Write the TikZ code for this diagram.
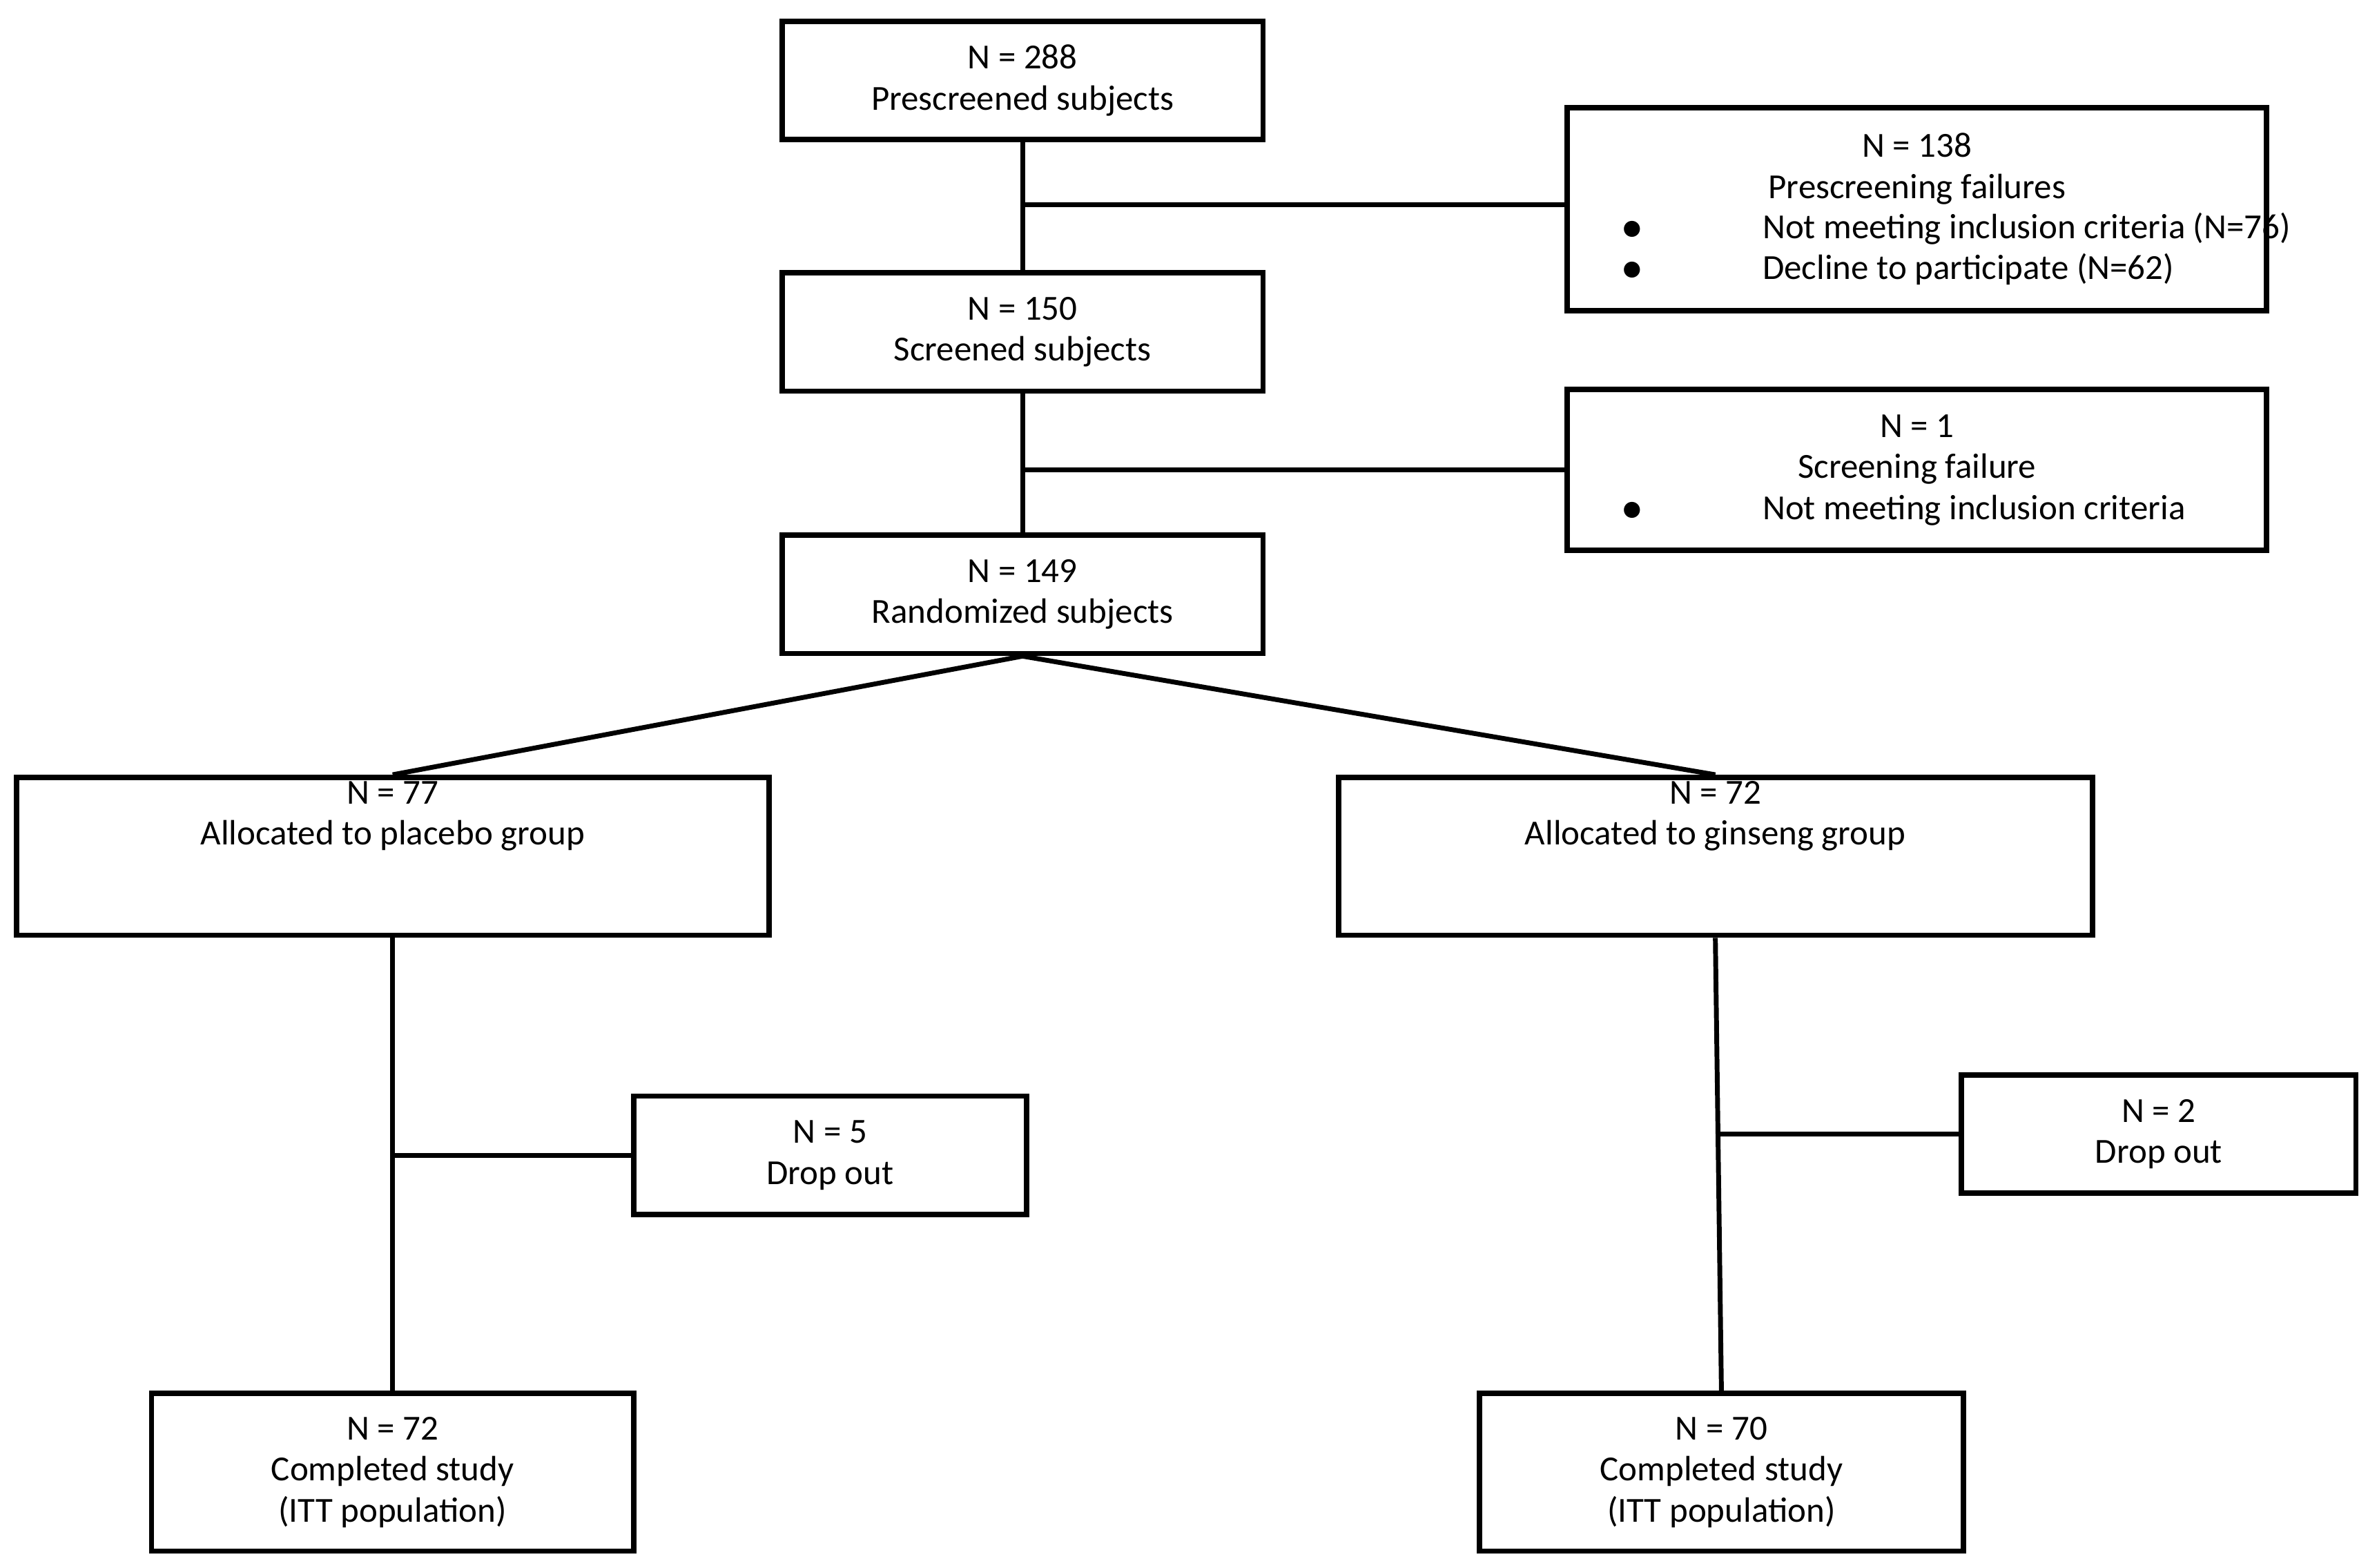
\documentclass[tikz,border=0pt]{standalone}
\usepackage{fontspec}
\setmainfont{Carlito}
\begin{document}
\begin{tikzpicture}[x=0.01cm,y=-0.01cm,
    box/.style={draw,line width=1pt,align=center,inner sep=0pt,
      font=\fontsize{6.6}{7.7}\selectfont},
    link/.style={line width=0.9pt}]
  \useasboundingbox (0,0) rectangle (1562,1034);
  % main column
  \node[box,minimum width=3.17cm,minimum height=0.78cm] (pre) at (674.5,53) {N = 288\\Prescreened subjects};
  \node[box,minimum width=3.17cm,minimum height=0.78cm] (scr) at (674.5,219) {N = 150\\Screened subjects};
  \node[box,minimum width=3.17cm,minimum height=0.78cm] (rand) at (674.5,392) {N = 149\\Randomized subjects};
  % exclusions
  \node[box,minimum width=4.61cm,minimum height=1.34cm] (prefail) at (1264.5,138)
    {N = 138\\Prescreening failures\\[-0.2pt]
     \makebox[3.9cm][l]{$\bullet$\hspace{3.4em}Not meeting inclusion criteria (N=76)}\\
     \makebox[3.9cm][l]{$\bullet$\hspace{3.4em}Decline to participate (N=62)}};
  \node[box,minimum width=4.61cm,minimum height=1.06cm] (scrfail) at (1264.5,310)
    {N = 1\\Screening failure\\
     \makebox[3.9cm][l]{$\bullet$\hspace{3.4em}Not meeting inclusion criteria}};
  % groups
  \node[box,minimum width=4.96cm,minimum height=1.04cm,anchor=north] (plac) at (259,511) {N = 77\\Allocated to placebo group\\[0.3cm]};
  \node[box,minimum width=4.97cm,minimum height=1.04cm,anchor=north] (gins) at (1131.5,511) {N = 72\\Allocated to ginseng group\\[0.3cm]};
  \node[box,minimum width=2.59cm,minimum height=0.78cm] (drop1) at (547.5,762) {N = 5\\Drop out};
  \node[box,minimum width=2.60cm,minimum height=0.78cm] (drop2) at (1424,748) {N = 2\\Drop out};
  \node[box,minimum width=3.18cm,minimum height=1.04cm] (done1) at (259,971) {N = 72\\Completed study\\(ITT population)};
  \node[box,minimum width=3.19cm,minimum height=1.04cm] (done2) at (1135.5,971) {N = 70\\Completed study\\(ITT population)};
  % connectors
  \draw[link] (pre) -- (scr);
  \draw[link] (scr) -- (rand);
  \draw[link] (674.5,135) -- (prefail.west |- 0,135);
  \draw[link] (674.5,310) -- (scrfail.west |- 0,310);
  \draw[link] (rand.south) -- (plac.north);
  \draw[link] (rand.south) -- (gins.north);
  \draw[link] (plac.south) -- (done1.north);
  \draw[link] (259,762) -- (drop1.west);
  \draw[link] (gins.south) -- (done2.north);
  \draw[link] (1133,748) -- (drop2.west);
\end{tikzpicture}
\end{document}
